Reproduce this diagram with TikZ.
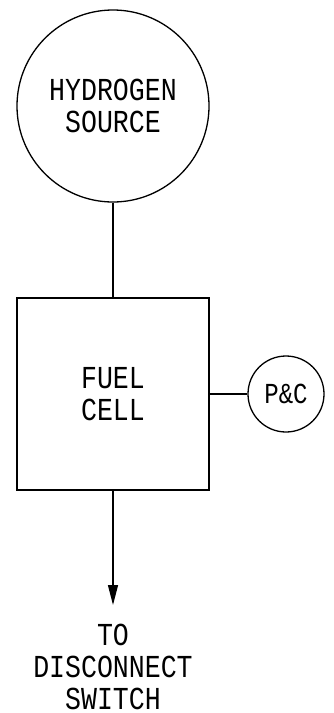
\documentclass[tikz,border=0pt]{standalone}
\usepackage{fontspec}
\newfontfamily\cadfont{Liberation Mono}[FakeStretch=0.83]
\usetikzlibrary{arrows.meta,positioning}

\begin{document}
\begin{tikzpicture}[x=1pt,y=-1pt]
\tikzset{unit/.style = {draw=black, line width=1.3pt, inner sep=0pt, align=center,
    font=\cadfont\fontsize{32}{32}\selectfont}}
\tikzset{pipe/.style = {draw=black, line width=1.3pt}}
\useasboundingbox (0,0) rectangle (334,713);

    \node[unit, circle, minimum size=192pt] (src) at (113,106) {HYDROGEN\\SOURCE};
    \node[unit, rectangle, minimum size=192pt] (fc) at (113,394) {FUEL\\CELL};
    \node[unit, circle, minimum size=76pt, font=\cadfont\fontsize{29}{29}\selectfont] (pc) at (286,394) {P\&C};
    \coordinate (out) at (113,605);
    \node[unit, draw=none, below=18pt of out] (dest) {TO\\DISCONNECT\\SWITCH};

\draw[pipe] (src) -- (fc);
\draw[pipe] (fc) -- (pc);
\draw[pipe, -{Triangle[length=20pt, width=10pt]}] (fc) -- (out);
\end{tikzpicture}
\end{document}
